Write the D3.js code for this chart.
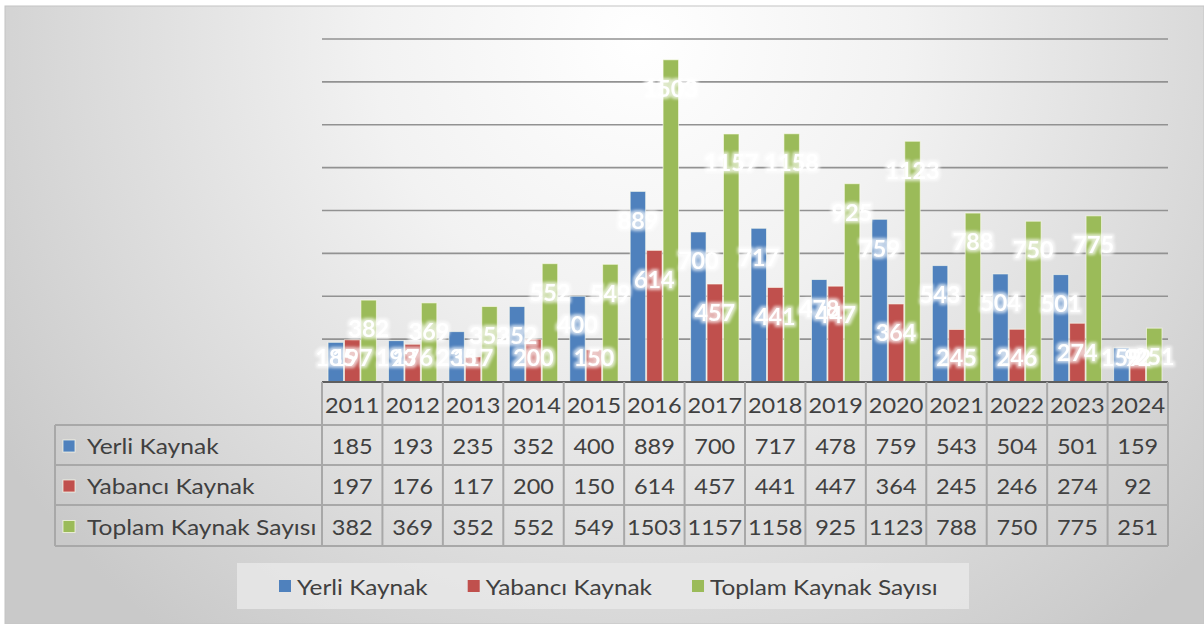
<!DOCTYPE html>
<head>
  <meta charset="utf-8">
  <script src="https://d3js.org/d3.v7.min.js"></script>
  <style>
    body { margin: 0; background: #fff; }
    text { font-family: Lato, "Open Sans", sans-serif; }
    .grid { stroke: #929292; stroke-width: 1.6px; }
    .tline { stroke: #a8a8a8; stroke-width: 2px; fill: none; }
  </style>
</head>

<body>
  <script>

    // data
    var years = ["2011", "2012", "2013", "2014", "2015", "2016", "2017", "2018", "2019", "2020", "2021", "2022", "2023", "2024"];
    var seriesNames = ["Yerli Kaynak", "Yabancı Kaynak", "Toplam Kaynak Sayısı"];
    var yerli = [185, 193, 235, 352, 400, 889, 700, 717, 478, 759, 543, 504, 501, 159];
    var yabanci = [197, 176, 117, 200, 150, 614, 457, 441, 447, 364, 245, 246, 274, 92];
    var toplam = [382, 369, 352, 552, 549, 1503, 1157, 1158, 925, 1123, 788, 750, 775, 251];
    var yTicks = [0, 200, 400, 600, 800, 1000, 1200, 1400, 1600];
    var colors = ["#4f81bd", "#c0504d", "#9bbb59"];

    var series = [yerli, yabanci, toplam].map(function(v, i) {
      return { name: seriesNames[i], values: v, color: colors[i], idx: i };
    });

    // the source font runs a bit wider than Lato, so texts get stretched sideways
    function place(sel, fx, fy, sx) {
      sel.attr("transform", function(d, i) {
        return "translate(" + fx(d, i) + "," + fy(d, i) + ") scale(" + sx + ",1)";
      });
    }

    var svg = d3.select("body").append("svg")
      .attr("width", 1204)
      .attr("height", 624);

    var defs = svg.append("defs");
    var bg = defs.append("radialGradient")
      .attr("id", "bg")
      .attr("gradientUnits", "userSpaceOnUse")
      .attr("cx", 640).attr("cy", 40).attr("r", 760);
    bg.append("stop").attr("offset", "0").attr("stop-color", "#ffffff");
    bg.append("stop").attr("offset", "0.35").attr("stop-color", "#f2f2f2");
    bg.append("stop").attr("offset", "0.75").attr("stop-color", "#d9d9d9");
    bg.append("stop").attr("offset", "1").attr("stop-color", "#c9c9c9");

    var glow = defs.append("filter").attr("id", "glow")
      .attr("x", "-30%").attr("y", "-30%").attr("width", "160%").attr("height", "160%");
    glow.append("feMorphology").attr("in", "SourceAlpha").attr("operator", "dilate").attr("radius", 1.5).attr("result", "d");
    glow.append("feGaussianBlur").attr("in", "d").attr("stdDeviation", 1.5).attr("result", "b");
    glow.append("feFlood").attr("flood-color", "#ffffff").attr("flood-opacity", 0.7);
    glow.append("feComposite").attr("in2", "b").attr("operator", "in").attr("result", "g");
    var merge = glow.append("feMerge");
    merge.append("feMergeNode").attr("in", "g");
    merge.append("feMergeNode").attr("in", "SourceGraphic");

    svg.append("rect")
      .attr("x", 5).attr("y", 6)
      .attr("width", 1199).attr("height", 618)
      .attr("fill", "url(#bg)")
      .attr("stroke", "#c4c4c4");

    // scales
    var x0 = d3.scaleBand()
      .domain(years)
      .range([322, 1168])
      .paddingInner(0.2)
      .paddingOuter(0.1);

    var x1 = d3.scaleBand()
      .domain([0, 1, 2])
      .range([0, x0.bandwidth()])
      .paddingInner(0.06);

    var y = d3.scaleLinear()
      .domain([0, 1600])
      .range([382, 39]);

    // columns of the data table share the category band
    var tx = d3.scaleBand().domain(years).range([322, 1168]);
    var rowEdges = [382, 425, 465, 505, 546];

    // gridlines
    svg.append("g").selectAll("line").data(yTicks.slice(1)).enter()
      .append("line")
      .attr("class", "grid")
      .attr("x1", 322).attr("x2", 1168)
      .attr("y1", function(d) { return y(d); })
      .attr("y2", function(d) { return y(d); });

    // bars
    var groups = svg.append("g").selectAll("g").data(series).enter()
      .append("g")
      .attr("fill", function(d) { return d.color; });

    groups.selectAll("rect").data(function(s) {
        return s.values.map(function(v, i) { return { s: s.idx, year: years[i], value: v }; });
      }).enter()
      .append("rect")
      .attr("x", function(d) { return x0(d.year) + x1(d.s); })
      .attr("y", function(d) { return y(d.value); })
      .attr("width", x1.bandwidth())
      .attr("height", function(d) { return y(0) - y(d.value); })
      .attr("stroke", "rgba(255,255,240,0.6)")
      .attr("stroke-width", 1);

    // axis line
    svg.append("line")
      .attr("x1", 322).attr("x2", 1168)
      .attr("y1", y(0)).attr("y2", y(0))
      .attr("stroke", "#5f5f5f")
      .attr("stroke-width", 2);

    // data labels (white, inside end)
    var labels = svg.append("g").attr("filter", "url(#glow)");
    series.forEach(function(s) {
      var t = labels.selectAll(null).data(s.values).enter()
        .append("text")
        .attr("text-anchor", "middle")
        .attr("dominant-baseline", "central")
        .style("font-size", "22px")
        .style("font-weight", "bold")
        .style("fill", "#ffffff")
        .text(function(d) { return d; });
      place(t,
        function(d, i) { return x0(years[i]) + x1(s.idx) + x1.bandwidth() / 2; },
        function(d) { return Math.min(y(d) + 29, 358); },
        1.06);
    });

    // data table
    var table = svg.append("g");

    years.forEach(function(yr) {
      table.append("line").attr("class", "tline")
        .attr("x1", tx(yr)).attr("x2", tx(yr))
        .attr("y1", rowEdges[0]).attr("y2", rowEdges[4]);
    });
    table.append("line").attr("class", "tline")
      .attr("x1", 1168).attr("x2", 1168)
      .attr("y1", rowEdges[0]).attr("y2", rowEdges[4]);
    table.append("line").attr("class", "tline")
      .attr("x1", 55).attr("x2", 55)
      .attr("y1", rowEdges[1]).attr("y2", rowEdges[4]);
    rowEdges.slice(1).forEach(function(ry) {
      table.append("line").attr("class", "tline")
        .attr("x1", 55).attr("x2", 1168)
        .attr("y1", ry).attr("y2", ry);
    });

    var yrText = table.selectAll(".yr").data(years).enter()
      .append("text")
      .attr("class", "yr")
      .attr("text-anchor", "middle")
      .attr("dominant-baseline", "central")
      .style("font-size", "21px")
      .style("fill", "#404040")
      .text(function(d) { return d; });
    place(yrText,
      function(d) { return tx(d) + tx.bandwidth() / 2; },
      function() { return (rowEdges[0] + rowEdges[1]) / 2 + 1; },
      1.12);

    series.forEach(function(s) {
      var cy = (rowEdges[s.idx + 1] + rowEdges[s.idx + 2]) / 2 + 1;
      table.append("rect")
        .attr("x", 63).attr("y", cy - 6)
        .attr("width", 12).attr("height", 12)
        .attr("fill", s.color)
        .attr("stroke", "rgba(255,255,240,0.7)");
      table.append("text")
        .attr("transform", "translate(87," + cy + ") scale(1.17,1)")
        .attr("dominant-baseline", "central")
        .style("font-size", "21px")
        .style("fill", "#404040")
        .text(s.name);
      var cells = table.selectAll(null).data(s.values).enter()
        .append("text")
        .attr("text-anchor", "middle")
        .attr("dominant-baseline", "central")
        .style("font-size", "21px")
        .style("fill", "#404040")
        .text(function(d) { return d; });
      place(cells,
        function(d, i) { return tx(years[i]) + tx.bandwidth() / 2; },
        function() { return cy; },
        1.12);
    });

    // legend
    var legend = svg.append("g");
    legend.append("rect")
      .attr("x", 237).attr("y", 563)
      .attr("width", 732).attr("height", 46)
      .attr("fill", "#e8e8e8")
      .attr("opacity", 0.85);

    var sxLeg = 1.19;
    var items = legend.selectAll(".item").data(series).enter()
      .append("g").attr("class", "item");
    items.append("rect")
      .attr("y", 580).attr("width", 12).attr("height", 12)
      .attr("fill", function(d) { return d.color; });
    items.append("text")
      .attr("transform", "translate(18,587) scale(" + sxLeg + ",1)")
      .attr("dominant-baseline", "central")
      .style("font-size", "20.5px")
      .style("fill", "#404040")
      .text(function(d) { return d.name; });

    var widths = [];
    items.each(function() { widths.push(d3.select(this).select("text").node().getComputedTextLength() * sxLeg + 18); });
    var cx = 279;
    items.each(function(d, i) {
      d3.select(this).attr("transform", "translate(" + cx + ",0)");
      cx += widths[i] + 40;
    });

  </script>
</body>
